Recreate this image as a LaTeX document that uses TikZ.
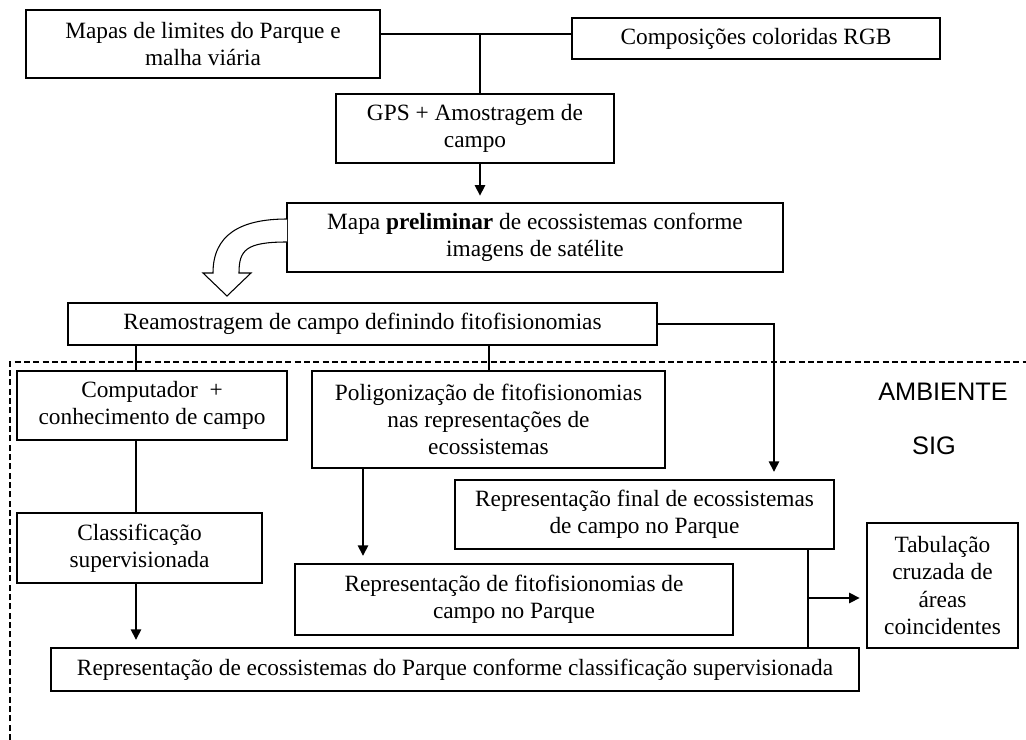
\documentclass[tikz,border=0pt]{standalone}
\usepackage{fontspec}
\setmainfont{Liberation Serif}
\newfontfamily\sigfont{Liberation Sans}
\usetikzlibrary{arrows.meta}

\begin{document}
\begin{tikzpicture}[
x=0.75pt,
y=-0.75pt,
rect/.style={
draw,
line width=0.8pt,
align=center,
inner sep=0pt,
},
thickrect/.style={
rect,
line width=2pt,
},
myline/.style={
line width=0.8pt,
},
myarrow/.style={
->,
>={Triangle[length=8pt,width=7.5pt]},
line width=2pt,
shorten >=5pt,
},
font=\fontsize{17.5}{20.5}\selectfont,
]
\useasboundingbox (0,0) rectangle (1026,740);

% guides for the vertical connectors
\coordinate (jn) at (480,34);
\coordinate (c1) at (136,0);
\coordinate (c2) at (489,0);
\coordinate (c3) at (363,0);
\coordinate (c4) at (774,0);
\coordinate (c5) at (808,0);
\coordinate (c6) at (808,598);

\draw[dashed, dash pattern=on 4.5pt off 2.5pt, line width=0.9pt] (10,740) -- (10,362) -- (1026,362);

\node[rect, minimum width=265.5pt, minimum height=51pt] at (203,44) (mapas) {Mapas de limites do Parque e\\ malha viária};
\node[rect, minimum width=276pt, minimum height=30.75pt] at (756,38.5) (rgb) {Composições coloridas RGB};
\node[rect, minimum width=208.5pt, minimum height=51.75pt] at (475,128.5) (gps) {GPS + Amostragem de\\ campo};
\node[rect, minimum width=372pt, minimum height=51.75pt] at (535,237.5) (prelim) {Mapa \textbf{preliminar} de ecossistemas conforme\\ imagens de satélite};
\node[thickrect, minimum width=441.75pt, minimum height=31.5pt] at (362.5,324) (ream) {Reamostragem de campo definindo fitofisionomias};
\node[rect, minimum width=202.5pt, minimum height=51.75pt] at (152,405.5) (comp) {Computador~ +\\ conhecimento de campo};
\node[rect, minimum width=264.75pt, minimum height=72.75pt] at (488.5,419.5) (polig) {Poligonização de fitofisionomias\\ nas representações de\\ ecossistemas};
\node[rect, minimum width=183.75pt, minimum height=52.5pt] at (139.5,548) (classif) {Classificação\\ supervisionada};
\node[thickrect, minimum width=284.25pt, minimum height=51.75pt] at (644.5,514.5) (final) {Representação final de ecossistemas\\ de campo no Parque};
\node[thickrect, minimum width=328.5pt, minimum height=53.25pt] at (514,599.5) (fito) {Representação de fitofisionomias de\\ campo no Parque};
\node[thickrect, minimum width=606pt, minimum height=32.25pt] at (455,669.5) (bottom) {Representação de ecossistemas do Parque conforme classificação supervisionada};
\node[rect, minimum width=113.25pt, minimum height=93.75pt] at (942.5,585.5) (tab) {Tabulação\\ cruzada de\\ áreas\\ coincidentes};

\node[font=\sigfont\fontsize{19}{22}\selectfont] at (943,392) (amb) {AMBIENTE};
\node[font=\sigfont\fontsize{19}{22}\selectfont] at (934,446) (sig) {SIG};

\draw[myline] (jn -| mapas.east) -- (jn -| rgb.west);
\draw[myline] (jn) -- (jn |- gps.north);
\draw[myarrow] (jn |- gps.south) -- (jn |- prelim.north);

% hollow arrow
\draw[myline, fill=white] (287,219) .. controls (240,219) and (213,235) .. (213,273) -- (203,273) -- (227,296) -- (251,273) -- (239,273) .. controls (239,250) and (246,242) .. (287,242);

\draw[myline] (c1 |- ream.south) -- (c1 |- comp.north);
\draw[myline] (c2 |- ream.south) -- (c2 |- polig.north);
\draw[myarrow] (ream.east) -| (c4 |- final.north);
\draw[myline] (c1 |- comp.south) -- (c1 |- classif.north);
\draw[myarrow] (c1 |- classif.south) -- (c1 |- bottom.north);
\draw[myarrow] (c3 |- polig.south) -- (c3 |- fito.north);
\draw[myline] (c5 |- final.south) -- (c5 |- bottom.north);
\draw[myarrow] (c6) -- (c6 -| tab.west);

\end{tikzpicture}
\end{document}
